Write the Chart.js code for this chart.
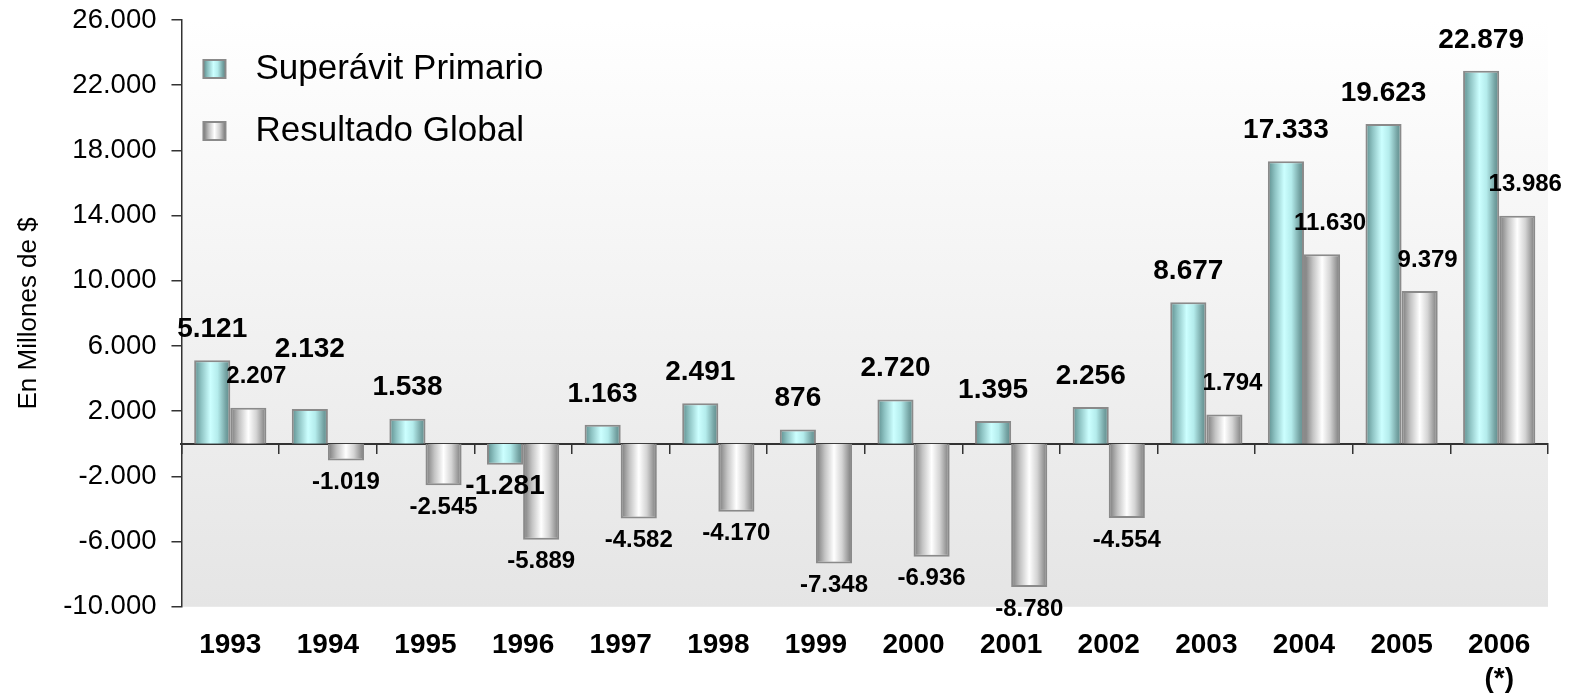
<!DOCTYPE html>
<html>
<head>
<meta charset="utf-8">
<title>Superávit Primario y Resultado Global</title>
<script src="https://cdn.jsdelivr.net/npm/chart.js@4.4.1/dist/chart.umd.min.js"></script>
<style>
  html, body { margin: 0; padding: 0; background: #fff; }
  #wrap { width: 1583px; height: 696px; position: relative; }
</style>
</head>
<body>
<div id="wrap"><canvas id="myChart"></canvas></div>
<script>
// datos en millones de $ (2006 estimado)
const years = ['1993', '1994', '1995', '1996', '1997', '1998', '1999', '2000',
    '2001', '2002', '2003', '2004', '2005', ['2006', '(*)']];
const superavitPrimario = [5121, 2132, 1538, -1281, 1163, 2491, 876, 2720, 1395, 2256, 8677, 17333, 19623, 22879];
const resultadoGlobal = [2207, -1019, -2545, -5889, -4582, -4170, -7348, -6936, -8780, -4554, 1794, 11630, 9379, 13986];
const yTicks = [-10000, -6000, -2000, 2000, 6000, 10000, 14000, 18000, 22000, 26000];

// colores de las barras "cilindro"
const cylinderStops = [
    [[0, '#5c8c8c'], [0.2, '#8fc4c4'], [0.45, '#ccffff'], [0.65, '#b4ecec'], [0.88, '#74a2a2'], [1, '#5c8888']],
    [[0, '#767676'], [0.25, '#c4c4c4'], [0.5, '#ffffff'], [0.72, '#d4d4d4'], [1, '#777777']]
];
const flatFill = ['#a6dede', '#dadada'];
const labelSize = [28, 24];
const FONT = '"Liberation Sans", Arial, sans-serif';

function fmt(v) {
    let s = Math.abs(v).toString().replace(/\B(?=(\d{3})+(?!\d))/g, '.');
    return (v < 0 ? '-' : '') + s;
}

const plotBackground = {
    id: 'plotBackground',
    beforeDraw(chart) {
        const { ctx, chartArea: a } = chart;
        if (!a) return;
        const g = ctx.createLinearGradient(0, a.top, 0, a.bottom);
        g.addColorStop(0, '#ffffff');
        g.addColorStop(1, '#e5e5e5');
        ctx.save();
        ctx.fillStyle = g;
        ctx.fillRect(a.left, a.top, a.width, a.height);
        ctx.restore();
    }
};

// gradiente horizontal por barra, usando la geometría que calcula Chart.js
const cylinder = {
    id: 'cylinder',
    beforeDatasetsDraw(chart) {
        const ctx = chart.ctx;
        chart.data.datasets.forEach((ds, di) => {
            chart.getDatasetMeta(di).data.forEach(bar => {
                const g = ctx.createLinearGradient(bar.x - bar.width / 2, 0, bar.x + bar.width / 2, 0);
                cylinderStops[di].forEach(s => g.addColorStop(s[0], s[1]));
                bar.options.backgroundColor = g;
            });
        });
    }
};

// valores sobre/bajo cada barra; si una etiqueta positiva pisa otra, se sube
const valueLabels = {
    id: 'valueLabels',
    afterDatasetsDraw(chart) {
        const ctx = chart.ctx;
        const placed = [];
        ctx.save();
        ctx.fillStyle = '#000';
        ctx.textAlign = 'center';
        ctx.textBaseline = 'middle';
        chart.data.labels.forEach((lbl, i) => {
            chart.data.datasets.forEach((ds, di) => {
                if (!chart.isDatasetVisible(di)) return;
                const bar = chart.getDatasetMeta(di).data[i];
                const v = ds.data[i];
                const up = v >= 0;
                const size = labelSize[di];
                ctx.font = 'bold ' + size + 'px ' + FONT;
                const text = fmt(v);
                const w = ctx.measureText(text).width;
                const x = bar.x + (up && di === 1 ? 8 : 0);
                let y = up ? bar.y - 31 : bar.y + 22;
                if (up) {
                    for (let k = 0; k < 10; k++) {
                        const hit = placed.find(p => p.l < x + w / 2 && p.r > x - w / 2 &&
                            p.t < y + size / 2 && p.b > y - size / 2);
                        if (!hit) break;
                        y = hit.t - 2 - size / 2;
                    }
                }
                placed.push({ l: x - w / 2, r: x + w / 2, t: y - size / 2, b: y + size / 2 });
                ctx.fillText(text, x, y);
            });
        });
        ctx.restore();
    }
};

// leyenda dentro del área del gráfico, arriba a la izquierda
const innerLegend = {
    id: 'innerLegend',
    afterDraw(chart) {
        const { ctx, chartArea: a } = chart;
        ctx.save();
        ctx.font = '35px ' + FONT;
        ctx.textBaseline = 'middle';
        ctx.textAlign = 'left';
        chart.data.datasets.forEach((ds, i) => {
            const cy = a.top + 49 + i * 62;
            const bx = a.left + 22, bw = 22, bh = 18;
            const g = ctx.createLinearGradient(bx, 0, bx + bw, 0);
            cylinderStops[i].forEach(s => g.addColorStop(s[0], s[1]));
            ctx.fillStyle = g;
            ctx.fillRect(bx, cy - bh / 2, bw, bh);
            ctx.strokeStyle = '#8a8a8a';
            ctx.lineWidth = 2;
            ctx.strokeRect(bx, cy - bh / 2, bw, bh);
            ctx.fillStyle = '#000';
            ctx.fillText(ds.label, bx + bw + 30, cy);
        });
        ctx.restore();
    }
};

Chart.defaults.font.family = FONT;
Chart.defaults.color = '#000';

let ctx = document.getElementById('myChart').getContext('2d');
let myChart = new Chart(ctx, {
    type: 'bar',
    data: {
        labels: years,
        datasets: [{
            label: 'Superávit Primario',
            data: superavitPrimario,
            backgroundColor: () => flatFill[0],
            borderColor: '#8a8a8a',
            borderWidth: 2,
            categoryPercentage: 0.74,
            barPercentage: 1.0
        }, {
            label: 'Resultado Global',
            data: resultadoGlobal,
            backgroundColor: () => flatFill[1],
            borderColor: '#8a8a8a',
            borderWidth: 2,
            categoryPercentage: 0.74,
            barPercentage: 1.0
        }]
    },
    options: {
        responsive: true,
        maintainAspectRatio: false,
        animation: false,
        layout: { padding: { left: 7, right: 35, top: 20, bottom: 0 } },
        scales: {
            x: {
                grid: { display: false, drawTicks: false },
                border: { display: false },
                // chart.js reserva el padding dos veces; se descuenta uno
                afterFit: (scale) => { scale.height -= scale.options.ticks.padding; },
                ticks: {
                    padding: 22,
                    autoSkip: false,
                    maxRotation: 0,
                    color: '#000',
                    font: { size: 28, weight: 'bold', lineHeight: 1.2 }
                }
            },
            x2: {
                axis: 'x',
                type: 'category',
                position: { y: 0 },
                offset: true,
                grid: { offset: true, drawOnChartArea: false, drawTicks: true, tickLength: 9, color: '#333', lineWidth: 1.5 },
                border: { display: true, color: '#333', width: 2 },
                ticks: { display: false }
            },
            y: {
                min: yTicks[0],
                max: yTicks[yTicks.length - 1],
                afterBuildTicks: (scale) => {
                    scale.ticks = yTicks.map(v => ({ value: v }));
                },
                afterFit: (scale) => {
                    scale.width -= scale.options.ticks.padding;
                    scale.paddingTop = 0;
                    scale.paddingBottom = 0;
                },
                grid: { drawOnChartArea: false, drawTicks: true, tickLength: 10, color: '#333', lineWidth: 1.5 },
                border: { display: true, color: '#333', width: 1.5 },
                ticks: {
                    padding: 15,
                    color: '#000',
                    font: { size: 27.5 },
                    callback: (v) => fmt(v)
                },
                title: {
                    display: true,
                    text: 'En Millones de $',
                    color: '#000',
                    font: { size: 26 },
                    padding: { top: 6, bottom: 19 }
                }
            }
        },
        plugins: {
            legend: { display: false },
            tooltip: {
                callbacks: { label: (c) => c.dataset.label + ': ' + fmt(c.parsed.y) }
            }
        }
    },
    plugins: [plotBackground, cylinder, valueLabels, innerLegend]
});
</script>
</body>
</html>
